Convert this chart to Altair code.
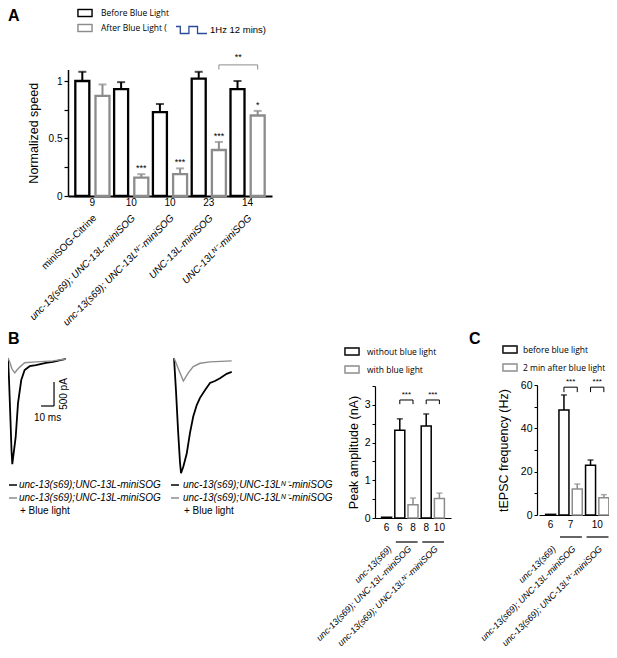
import json
import altair as alt
import pandas as pd

W, H = 601, 642


def P(v):
    # page pixel -> plot pixel (page has an 8px margin)
    return v - 8


BLACK = "#000000"
GRAY = "#8c8c8c"
BLUE = "#2b4c9b"
AX = "Liberation Sans"
LG = "Open Sans"
# outlined rectangle drawn as a filled frame (outer clockwise, inner counter-clockwise)
BOX = "M-1,-0.53H1V0.53H-1Z M-0.88,-0.41V0.41H0.88V-0.41Z"

# ---------------- Panel A data ----------------
a_genotypes = ["miniSOG-Citrine", "unc-13(s69); UNC-13L-miniSOG",
               "unc-13(s69); UNC-13Lᴺ⁻-miniSOG", "UNC-13L-miniSOG", "UNC-13Lᴺ⁻-miniSOG"]
a_n = ["9", "10", "10", "23", "14"]
a_conditions = ["Before Blue Light", "After Blue Light ("]
a_before = [1.00, 0.93, 0.73, 1.02, 0.93]
a_before_err = [0.08, 0.06, 0.07, 0.06, 0.07]
a_after = [0.87, 0.16, 0.19, 0.40, 0.70]
a_after_err = [0.10, 0.03, 0.05, 0.07, 0.04]
a_after_stars = ["", "***", "***", "***", "*"]
a_compare = [(3, 4, 1.14, "**")]
a_stim_note = "1Hz 12 mins)"
wave_t = [0, 0.25, 0.25, 0.75, 0.75, 1.25, 1.25, 1.8]
wave_level = [1, 1, 0, 0, 1, 1, 0, 0]

# ---------------- Panel B traces ----------------
trace_conditions = ["no light", "blue light"]
trace_widths = [1.8, 1.4]
trace_name_left = "unc-13(s69);UNC-13L-miniSOG"
trace_name_right = "unc-13(s69);UNC-13Lᴺ⁻-miniSOG"
blue_note = "+ Blue light"
left_ctrl_t = [0, 0.8, 1.9, 2.7, 3.3, 4.2, 5.9, 7.7, 10.2, 12.8, 16.7, 21.5, 29.2, 34.6, 44.6]
left_ctrl_i = [0, -460, -1290, -1920, -2210, -2020, -1650, -940, -460, -250, -170, -150, -100, -80, -20]
left_blue_t = [0, 1.5, 3.1, 5.2, 6.9, 9.0, 12.8, 21.5, 34.6, 44.6]
left_blue_i = [0, -100, -230, -310, -250, -190, -100, -80, -60, -20]
right_ctrl_t = [0, 1.5, 3.1, 4.6, 5.4, 7.2, 9.8, 12.3, 14.8, 17.5, 20.0, 23.8, 27.7, 31.5, 35.4, 40.5, 44.4]
right_ctrl_i = [0, -670, -1500, -2170, -2400, -2260, -1990, -1560, -1220, -980, -830, -670, -520, -480, -420, -330, -290]
right_blue_t = [0, 3.1, 7.2, 11.0, 14.8, 20.0, 27.7, 44.4]
right_blue_i = [0, -210, -480, -310, -180, -110, -80, -60]
sb_ms, sb_pa = 10, 500
sb_t_end, sb_i = 35.4, -1000

# ---------------- Panel B bars ----------------
b_genotypes = ["unc-13(s69)", "unc-13(s69); UNC-13L-miniSOG", "unc-13(s69); UNC-13Lᴺ⁻-miniSOG"]
b_conditions = ["without blue light", "with blue light"]
b_bar_geno = [0, 1, 1, 2, 2]
b_bar_cond = [0, 0, 1, 0, 1]
b_peak = [0.02, 2.33, 0.35, 2.44, 0.52]
b_peak_err = [0.0, 0.30, 0.18, 0.32, 0.14]
b_n = ["6", "6", "8", "8", "10"]
b_compare = [(1, 2, 3.13, "***"), (3, 4, 3.13, "***")]

# ---------------- Panel C bars ----------------
c_genotypes = ["unc-13(s69)", "unc-13(s69); UNC-13L-miniSOG", "unc-13(s69); UNC-13Lᴺ⁻-miniSOG"]
c_conditions = ["before blue light", "2 min after blue light"]
c_bar_geno = [0, 1, 1, 2, 2]
c_bar_cond = [0, 0, 1, 0, 1]
c_freq = [0.3, 48.5, 12.0, 23.0, 8.0]
c_freq_err = [0.0, 6.9, 2.3, 2.4, 1.4]
c_n = ["6", "7", "10"]
c_compare = [(1, 2, 59.0, "***"), (3, 4, 59.0, "***")]


def lookup_expr(values, labels):
    expr = "''"
    for v, lab in reversed(list(zip(values, labels))):
        expr = f"datum.value == {v} ? {json.dumps(lab, ensure_ascii=False)} : {expr}"
    return expr


def qscale(domain, rng):
    return alt.Scale(domain=domain, range=rng, nice=False, zero=False)


def box_legend(x, y_center, loff, rowpad):
    return alt.Legend(orient="none", legendX=P(x), legendY=P(y_center) - 7.5, title=None,
                      symbolType=BOX, symbolSize=225, symbolStrokeWidth=0.5,
                      labelFont=LG, labelFontSize=8.5, labelOffset=loff, rowPadding=rowpad,
                      padding=0, labelLimit=300, labelColor=BLACK)


# ================= Panel A =================
rows = []
for g in range(len(a_genotypes)):
    for c, (vals, errs) in enumerate([(a_before, a_before_err), (a_after, a_after_err)]):
        rows.append({"pos": g + 1 + (-0.26 if c == 0 else 0.26), "cond": a_conditions[c],
                     "v": vals[g], "top": vals[g] + errs[g],
                     "star": a_after_stars[g] if c == 1 else ""})
dfA = pd.DataFrame(rows)
dfA_n = pd.DataFrame({"pos": [g + 1 for g in range(len(a_genotypes))], "n": a_n})
dfA_cmp = pd.DataFrame([{"x1": i + 1.26, "x2": j + 1.26, "xm": (i + j) / 2 + 1.26,
                         "h": h, "h2": h - 0.04, "lab": lab} for i, j, h, lab in a_compare])

sxA = qscale([0.5, 5.5], [P(68), P(272)])
syA = qscale([0, 1.1], [P(196), P(196 - 1.1 * 115)])
scA = alt.Scale(domain=a_conditions, range=[BLACK, GRAY])

axAx = alt.Axis(orient="bottom", offset=P(196) - H, values=[1, 2, 3, 4, 5],
                labelExpr=lookup_expr([1, 2, 3, 4, 5], a_genotypes),
                labelAngle=-45, labelAlign="right", labelBaseline="middle",
                labelPadding=20, labelOffset=2, labelFontSize=10,
                labelFontStyle={"condition": {"test": "datum.value == 1", "value": "normal"}, "value": "italic"},
                labelOverlap=False, labelFlush=False, labelLimit=300,
                ticks=False, domainWidth=2, title=None, grid=False)
axAy = alt.Axis(orient="left", offset=-P(68), values=[0, 0.25, 0.5, 0.75, 1],
                labelExpr="datum.value == 0 ? '0' : datum.value == 0.5 ? '0.5' : datum.value == 1 ? '1' : ''",
                tickSize=4, tickWidth=1.2, domainWidth=1.5, labelPadding=2, labelFontSize=10,
                labelFlush=False, title="Normalized speed", titleFontSize=12.5, titlePadding=8,
                grid=False)
legA = box_legend(77, 12.5, 8, 2)


def XA(f):
    return alt.X(f, scale=sxA, axis=axAx)


def YA(f):
    return alt.Y(f, scale=syA, axis=axAy)


barsA = alt.Chart(dfA).mark_bar(width=14, fill="white", strokeWidth=2.3).encode(
    x=XA("pos:Q"), y=YA("v:Q"), stroke=alt.Stroke("cond:N", scale=scA, legend=legA))
errA = alt.Chart(dfA).mark_rule(strokeWidth=2).encode(
    x=XA("pos:Q"), y=YA("v:Q"), y2="top:Q", stroke=alt.Stroke("cond:N", scale=scA, legend=None))
capA = alt.Chart(dfA).mark_tick(orient="horizontal", size=8, thickness=2).encode(
    x=XA("pos:Q"), y=YA("top:Q"), color=alt.Color("cond:N", scale=scA, legend=None))
starA = alt.Chart(dfA).mark_text(baseline="bottom", dy=-1, fontSize=9, font=AX, color=BLACK).encode(
    x=XA("pos:Q"), y=YA("top:Q"), text="star:N")
nA = alt.Chart(dfA_n).mark_text(fontSize=10, font=AX, baseline="middle", color=BLACK).encode(
    x=XA("pos:Q"), y=alt.value(P(203)), text="n:N")
cmpA = alt.layer(
    alt.Chart(dfA_cmp).mark_rule(color=GRAY, strokeWidth=1).encode(x=XA("x1:Q"), x2="x2:Q", y=YA("h:Q")),
    alt.Chart(dfA_cmp).mark_rule(color=GRAY, strokeWidth=1).encode(x=XA("x1:Q"), y=YA("h:Q"), y2="h2:Q"),
    alt.Chart(dfA_cmp).mark_rule(color=GRAY, strokeWidth=1).encode(x=XA("x2:Q"), y=YA("h:Q"), y2="h2:Q"),
    alt.Chart(dfA_cmp).mark_text(baseline="bottom", dy=-3, fontSize=9, font=AX, color=BLACK).encode(
        x=XA("xm:Q"), y=YA("h:Q"), text="lab:N"),
)
panelA = alt.layer(barsA, errA, capA, starA, nA, cmpA)

# wave glyph of the legend
dfW = pd.DataFrame({"t": wave_t, "lv": wave_level, "i": list(range(len(wave_t)))})
sxW = qscale([0, 1.8], [P(176), P(207)])
syW = qscale([0, 1], [P(33.5), P(26.5)])
waveA = alt.layer(
    alt.Chart(dfW).mark_line(color=BLUE, strokeWidth=1.3).encode(
        x=alt.X("t:Q", scale=sxW, axis=None), y=alt.Y("lv:Q", scale=syW, axis=None), order="i:Q"),
    alt.Chart(pd.DataFrame({"t": [max(wave_t)], "lv": [0.5], "txt": [a_stim_note]})).mark_text(
        align="left", baseline="middle", dx=3, fontSize=9.5, font=AX, color=BLACK).encode(
        x=alt.X("t:Q", scale=sxW, axis=None), y=alt.Y("lv:Q", scale=syW, axis=None), text="txt:N"),
)


# ================= Panel B traces =================
def trace_df(ct, ci, bt, bi):
    d1 = pd.DataFrame({"t": ct, "I": ci, "cond": trace_conditions[0]})
    d2 = pd.DataFrame({"t": bt, "I": bi, "cond": trace_conditions[1]})
    d1["i"] = range(len(d1))
    d2["i"] = range(len(d2))
    return pd.concat([d1, d2], ignore_index=True)


syT = qscale([-2500, 0], [P(478), P(358)])
scT = alt.Scale(domain=trace_conditions, range=[BLACK, GRAY])
swT = alt.Scale(domain=trace_conditions, range=trace_widths)


def trace_legend(x, name, loff):
    return alt.Legend(orient="none", legendX=P(x), legendY=P(485) - 5, title=None,
                      symbolType="stroke", symbolSize=64, symbolStrokeWidth=1.5,
                      labelFont=AX, labelFontSize=10, labelFontStyle="italic", labelOffset=loff,
                      rowPadding=3, padding=0, labelLimit=300, labelColor=BLACK,
                      labelExpr=json.dumps(name, ensure_ascii=False))


sxTL = qscale([0, 45], [P(8), P(66.5)])
sxTR = qscale([0, 45], [P(174), P(232.5)])
traceL = alt.Chart(trace_df(left_ctrl_t, left_ctrl_i, left_blue_t, left_blue_i)).mark_line().encode(
    x=alt.X("t:Q", scale=sxTL, axis=None), y=alt.Y("I:Q", scale=syT, axis=None),
    color=alt.Color("cond:N", scale=scT, legend=trace_legend(8, trace_name_left, 1)),
    strokeWidth=alt.StrokeWidth("cond:N", scale=swT, legend=None), order="i:Q")
dfSB = pd.DataFrame({"t0": [sb_t_end - sb_ms], "t1": [sb_t_end], "tm": [sb_t_end - sb_ms / 2],
                     "i0": [sb_i], "i1": [sb_i + sb_pa], "im": [sb_i + sb_pa / 2],
                     "lx": [f"{sb_ms} ms"], "ly": [f"{sb_pa} pA"]})
sbar = alt.layer(
    alt.Chart(dfSB).mark_rule(color=BLACK, strokeWidth=1.2).encode(
        x=alt.X("t0:Q", scale=sxTL, axis=None), x2="t1:Q", y=alt.Y("i0:Q", scale=syT, axis=None)),
    alt.Chart(dfSB).mark_rule(color=BLACK, strokeWidth=1.2).encode(
        x=alt.X("t1:Q", scale=sxTL, axis=None), y=alt.Y("i0:Q", scale=syT, axis=None), y2="i1:Q"),
    alt.Chart(dfSB).mark_text(baseline="top", align="center", dy=7, fontSize=10, font=AX, color=BLACK).encode(
        x=alt.X("tm:Q", scale=sxTL, axis=None), y=alt.Y("i0:Q", scale=syT, axis=None), text="lx:N"),
    alt.Chart(dfSB).mark_text(baseline="top", align="center", angle=270, dy=5, fontSize=10, font=AX, color=BLACK).encode(
        x=alt.X("t1:Q", scale=sxTL, axis=None), y=alt.Y("im:Q", scale=syT, axis=None), text="ly:N"),
)
tracesL = alt.layer(traceL, sbar)
tracesR = alt.Chart(trace_df(right_ctrl_t, right_ctrl_i, right_blue_t, right_blue_i)).mark_line().encode(
    x=alt.X("t:Q", scale=sxTR, axis=None), y=alt.Y("I:Q", scale=syT, axis=None),
    color=alt.Color("cond:N", scale=scT, legend=trace_legend(170, trace_name_right, 3)),
    strokeWidth=alt.StrokeWidth("cond:N", scale=swT, legend=None), order="i:Q")


# ================= Bar panels B and C =================
def bar_panel(genos, conds, bar_geno, bar_cond, vals, errs, compares, n_labels, n_per_bar,
              ydom, ytick, ylab, ytitle, g):
    npos = len(vals)
    df = pd.DataFrame({"pos": [i + 1 for i in range(npos)],
                       "cond": [conds[c] for c in bar_cond],
                       "v": vals, "top": [v + e for v, e in zip(vals, errs)], "e": errs})
    dfe = df[df["e"] > 0]
    counts = [sum(1 for i in range(npos) if bar_geno[i] == k) for k in range(len(genos))]
    centers = [sum(i + 1 for i in range(npos) if bar_geno[i] == k) / counts[k] for k in range(len(genos))]
    if n_per_bar:
        dfn = pd.DataFrame({"pos": df["pos"], "n": n_labels})
    else:
        dfn = pd.DataFrame({"pos": centers, "n": n_labels})
    dfu = pd.DataFrame([{"u1": c - 0.8, "u2": c + 0.85} for c, k in zip(centers, counts) if k > 1])
    dfc = pd.DataFrame([{"x1": i + 1, "x2": j + 1, "xm": (i + j) / 2 + 1, "h": h,
                         "h2": h - g["drop"], "lab": lab} for i, j, h, lab in compares])

    sx = qscale([0.5, npos + 0.5], [P(g["x0"]), P(g["x1"])])
    sy = qscale(ydom, [P(g["ybot"]), P(g["ytop"])])
    sc = alt.Scale(domain=conds, range=[BLACK, GRAY])
    nt = int(round(ydom[1] / ytick))
    axx = alt.Axis(orient="bottom", offset=P(g["ybot"]) - H, values=centers,
                   labelExpr=lookup_expr(centers, genos), labelAngle=-45, labelAlign="right",
                   labelBaseline="middle", labelPadding=g["lpad"], labelOffset=g["loffx"], labelFontSize=9,
                   labelFontStyle="italic", labelOverlap=False, labelFlush=False, labelLimit=300,
                   ticks=False, domainWidth=1.2, title=None, grid=False)
    axy = alt.Axis(orient="left", offset=-P(g["yaxis"]), values=[round(k * ytick, 6) for k in range(nt + 1)],
                   labelExpr=f"datum.value % {ylab} == 0 ? '' + datum.value : ''",
                   tickSize=3, tickWidth=1, domainWidth=1.2, labelPadding=2, labelFontSize=10.5,
                   labelFlush=False, title=ytitle, titleFontSize=12.5, titlePadding=g["tpad"], grid=False)
    leg = box_legend(g["legx"], g["legy"], g["loff"], 5)

    def X(f):
        return alt.X(f, scale=sx, axis=axx)

    def Y(f):
        return alt.Y(f, scale=sy, axis=axy)

    bars = alt.Chart(df).mark_bar(width=10, fill="white", strokeWidth=1.5).encode(
        x=X("pos:Q"), y=Y("v:Q"), stroke=alt.Stroke("cond:N", scale=sc, legend=leg))
    err = alt.Chart(dfe).mark_rule(strokeWidth=1.5).encode(
        x=X("pos:Q"), y=Y("v:Q"), y2="top:Q", stroke=alt.Stroke("cond:N", scale=sc, legend=None))
    cap = alt.Chart(dfe).mark_tick(orient="horizontal", size=6, thickness=1.5).encode(
        x=X("pos:Q"), y=Y("top:Q"), color=alt.Color("cond:N", scale=sc, legend=None))
    nlab = alt.Chart(dfn).mark_text(fontSize=10, font=AX, baseline="middle", color=BLACK).encode(
        x=X("pos:Q"), y=alt.value(P(g["nrow"])), text="n:N")
    ul = alt.Chart(dfu).mark_rule(color=BLACK, strokeWidth=1.2).encode(
        x=X("u1:Q"), x2="u2:Q", y=alt.value(P(g["uline"])))
    cmp = alt.layer(
        alt.Chart(dfc).mark_rule(color=BLACK, strokeWidth=1).encode(x=X("x1:Q"), x2="x2:Q", y=Y("h:Q")),
        alt.Chart(dfc).mark_rule(color=BLACK, strokeWidth=1).encode(x=X("x1:Q"), y=Y("h:Q"), y2="h2:Q"),
        alt.Chart(dfc).mark_rule(color=BLACK, strokeWidth=1).encode(x=X("x2:Q"), y=Y("h:Q"), y2="h2:Q"),
        alt.Chart(dfc).mark_text(baseline="bottom", dy=-1, fontSize=8, font=AX, color=BLACK).encode(
            x=X("xm:Q"), y=Y("h:Q"), text="lab:N"),
    )
    return alt.layer(bars, err, cap, nlab, ul, cmp)


panelB = bar_panel(b_genotypes, b_conditions, b_bar_geno, b_bar_cond, b_peak, b_peak_err, b_compare,
                   b_n, True, [0, 3.5], 0.5, 1, "Peak amplitude (nA)",
                   dict(x0=375, x1=451, ybot=518, ytop=518 - 3.5 * 37.7, yaxis=375, lpad=29, loffx=3,
                        tpad=4, legx=344, legy=351, loff=7, nrow=528, uline=542, drop=0.11))
panelC = bar_panel(c_genotypes, c_conditions, c_bar_geno, c_bar_cond, c_freq, c_freq_err, c_compare,
                   c_n, False, [0, 60], 10, 20, "tEPSC frequency (Hz)",
                   dict(x0=539, x1=615.5, ybot=515, ytop=385, yaxis=537, lpad=32, loffx=3,
                        tpad=10, legx=502, legy=349, loff=5, nrow=525, uline=537, drop=2.3))

# ================= annotations =================
one = pd.DataFrame({"k": [0]})


def note(txt, x, y, size, weight="normal", align="left"):
    return alt.Chart(one).mark_text(text=txt, fontSize=size, fontWeight=weight, font=AX, align=align,
                                    baseline="alphabetic", color=BLACK).encode(
        x=alt.value(P(x)), y=alt.value(P(y)))


notes = alt.layer(
    note("A", 8, 21, 16, "bold"),
    note("B", 8, 344, 16, "bold"),
    note("C", 469, 344, 16, "bold"),
    note(blue_note, 20, 514, 10),
    note(blue_note, 184, 514, 10),
)

chart = alt.layer(panelA, waveA, tracesL, tracesR, panelB, panelC, notes).resolve_scale(
    x="independent", y="independent", color="independent", stroke="independent"
).properties(
    width=W, height=H, autosize=alt.AutoSizeParams(type="none"), padding=0
).configure_view(strokeWidth=0).configure_axis(
    grid=False, domainColor=BLACK, tickColor=BLACK, labelColor=BLACK, titleColor=BLACK,
    labelFont=AX, titleFont=AX, titleFontWeight="normal"
)

chart.save("out.html", embed_options={"renderer": "svg", "actions": False})
